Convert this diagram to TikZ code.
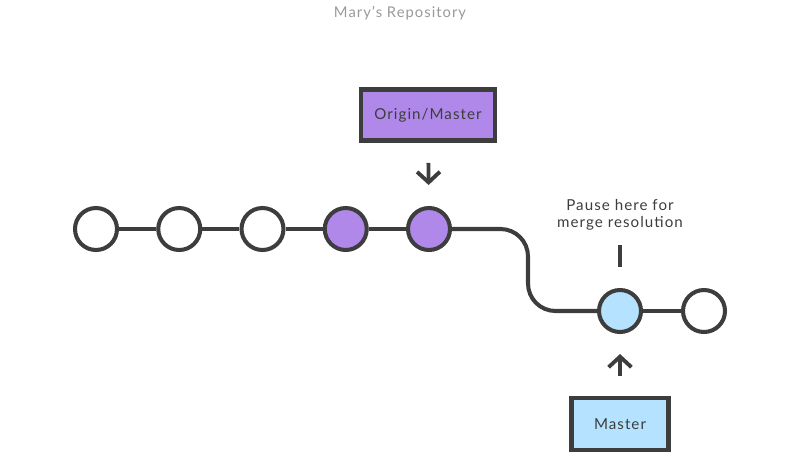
\documentclass[tikz,border=0pt]{standalone}
\usepackage{fontspec}
\setmainfont{Lato}[LetterSpace=7]
\usetikzlibrary{arrows.meta}
\definecolor{ink}{HTML}{3D3D3D}
\definecolor{lilac}{HTML}{B088EA}
\definecolor{skyblue}{HTML}{B5E2FF}
\tikzset{
  commit/.style={circle,draw=ink,line width=2.3pt,fill=white,minimum size=0.84cm,inner sep=0pt},
  branchbox/.style={draw=ink,line width=2.6pt,text=ink,font=\fontsize{8.6}{10}\selectfont,inner sep=0pt},
  link/.style={draw=ink,line width=2.3pt},
  pointer/.style={draw=ink,line width=2.2pt,-{Straight Barb[length=6pt,width=13pt]}}
}
\begin{document}
\begin{tikzpicture}
\useasboundingbox (0,0) rectangle (16,9.14);
\node[text=black!40,font=\fontsize{8.4}{9}\selectfont] (title) at (8,8.88) {Mary’s Repository};
% commits
\foreach \i/\c in {1/white,2/white,3/white,4/lilac,5/lilac}
  \node[commit,fill=\c] (c\i) at ({1.92+1.665*(\i-1)},4.56) {};
\node[commit,fill=skyblue] (m1) at (12.40,2.92) {};
\node[commit] (m2) at (14.08,2.92) {};
\foreach \a/\b in {c1/c2,c2/c3,c3/c4,c4/c5,m1/m2}
  \draw[link] (\a) -- (\b);
\draw[link,rounded corners=0.55cm] (c5) -- (10.56,4.56) -- (10.56,2.92) -- (m1);
% branches
\node[branchbox,fill=lilac,minimum width=2.68cm,minimum height=1.02cm] (origin) at (8.56,6.84) {\raisebox{-0.5pt}{Origin/Master}};
\node[branchbox,fill=skyblue,minimum width=1.94cm,minimum height=1.04cm] (master) at (12.40,0.66) {\raisebox{-0.5pt}{Master}};
\draw[pointer,shorten <=0.40cm,shorten >=0.42cm] (origin) -- (c5);
\draw[pointer,shorten <=0.40cm,shorten >=0.40cm] (master) -- (m1);
% note
\node[anchor=south,align=center,text=ink,font=\fontsize{8.6}{9.8}\selectfont,inner sep=0pt] (note) at (12.40,4.52) {Pause here for\\merge resolution};
\draw[link,line width=2pt,shorten <=0.42cm,shorten >=0.28cm] (m1) -- (note);
\end{tikzpicture}
\end{document}
